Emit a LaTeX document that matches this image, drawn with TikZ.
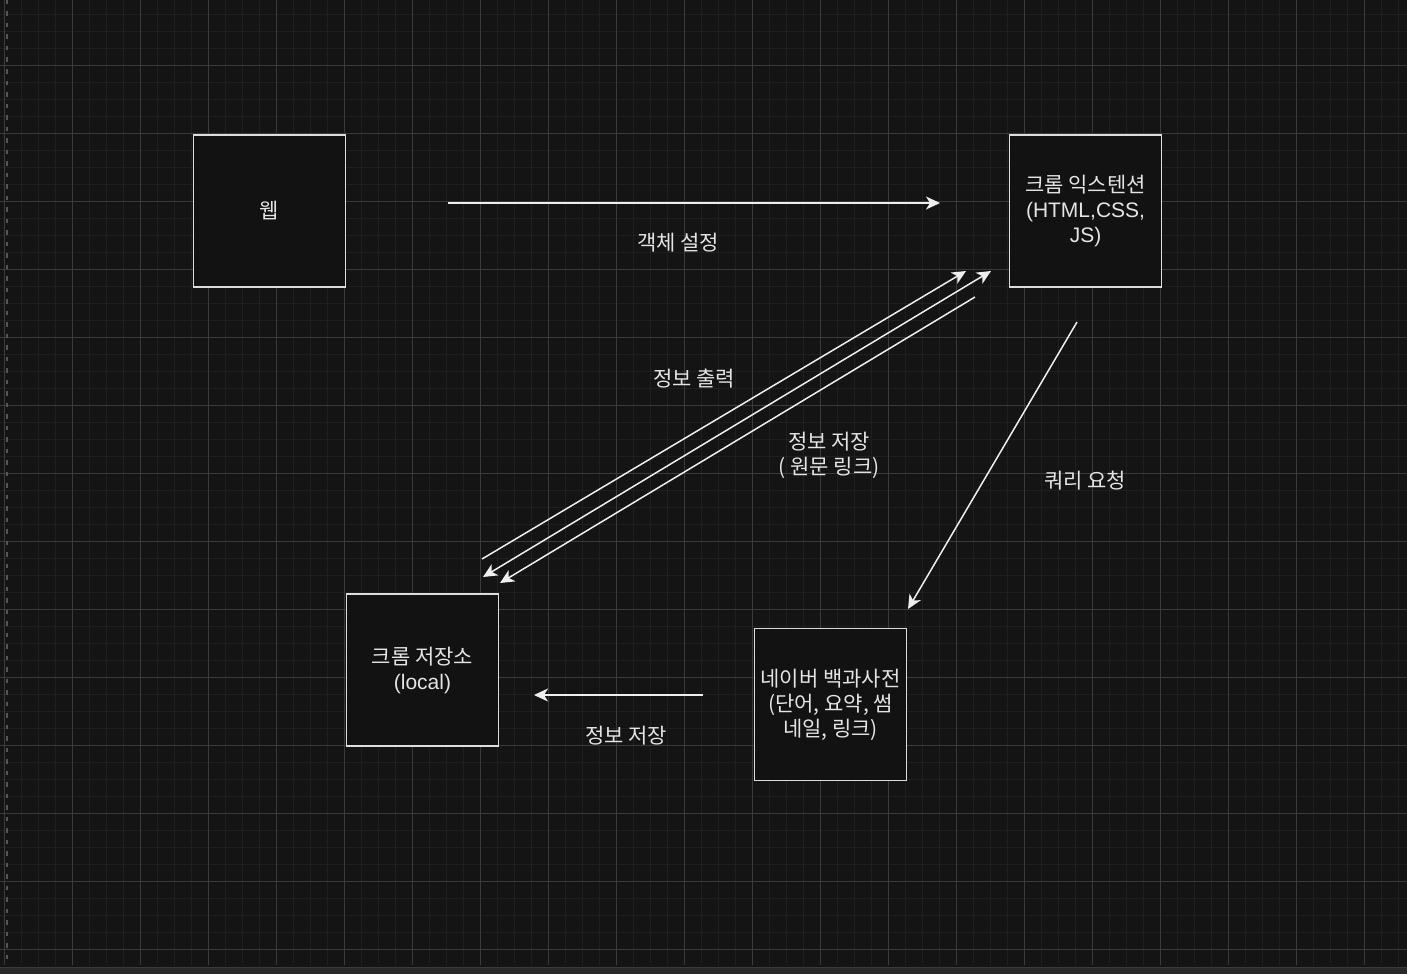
\documentclass[tikz,border=0pt]{standalone}
\usepackage{fontspec}
\setmainfont{Noto Sans CJK KR}
\newfontfamily\latfont{Liberation Sans}
\usetikzlibrary{arrows.meta}

\definecolor{bgdark}{HTML}{141414}
\definecolor{gridminor}{HTML}{1F1F1F}
\definecolor{gridmajor}{HTML}{3A3A3A}
\definecolor{dashcol}{HTML}{555555}
\definecolor{boxfill}{HTML}{121212}
\definecolor{boxline}{HTML}{DCDCDC}
\definecolor{txtcol}{HTML}{E4E4E4}
\definecolor{arrowcol}{HTML}{EEEEEE}
\definecolor{barcol}{HTML}{2A2A2A}

\begin{document}
\begin{tikzpicture}[x=1pt, y=-1pt]
        % Styles
        \tikzstyle{box} = [rectangle, draw=boxline, fill=boxfill, line width=1.8pt,
            minimum width=152pt, minimum height=152pt, text=txtcol, align=center,
            font=\fontsize{21}{25}\selectfont]
        \tikzstyle{edgetext} = [text=txtcol, align=center, font=\fontsize{21}{25}\selectfont]
        \tikzstyle{line} = [draw=arrowcol, line width=1.5pt,
            -{Stealth[length=14pt, width=13pt, inset=4pt]}]

        % Canvas and grid
        \useasboundingbox (0,0) rectangle (1407,974);
        \fill[bgdark] (0,0) rectangle (1407,974);
        \foreach \x in {4,21,...,1406}
            \draw[gridminor, line width=1pt] (\x,0) -- (\x,965);
        \foreach \y in {-2.7,14.3,...,965}
            \draw[gridminor, line width=1pt] (0,\y) -- (1407,\y);
        \foreach \x in {4,72,...,1406}
            \draw[gridmajor, line width=1pt] (\x,0) -- (\x,965);
        \foreach \y in {-2.7,65.3,...,965}
            \draw[gridmajor, line width=1pt] (0,\y) -- (1407,\y);
        \draw[dashcol, line width=1.5pt, dash pattern=on 4.5pt off 7pt] (7,0) -- (7,965);
        \fill[barcol] (0,967) rectangle (1407,974);
        \draw[gridmajor, line width=1.5pt] (0,967.5) -- (1407,967.5);

        % Nodes
        \node [box] (web) at (269.5,211) {웹};
        \node [box] (ext) at (1085.5,211) {크롬 익스텐션\\{\latfont (HTML,CSS,}\\{\latfont JS)}};
        \node [box] (store) at (422.5,670) {크롬 저장소\\{\latfont (local)}};
        \node [box] (naver) at (830.5,704.5) {네이버 백과사전\\(단어, 요약, 썸\\네일, 링크)};

        % Arrow ends
        \coordinate (webout) at (448,203);
        \coordinate (extin) at (940,203);
        \coordinate (outfrom) at (482,559);
        \coordinate (outto) at (966,271);
        \coordinate (bothup) at (991,271);
        \coordinate (bothdown) at (483,577);
        \coordinate (savefrom) at (975,297);
        \coordinate (saveto) at (500,583);
        \coordinate (queryfrom) at (1077,322);
        \coordinate (queryto) at (908,609);
        \coordinate (naverout) at (703,695);
        \coordinate (storein) at (534,695);

        % Connections
        \path [line] (webout) -- (extin);
        \path [line] (outfrom) -- (outto);
        \path [line, {Stealth[length=14pt, width=13pt, inset=4pt]}-{Stealth[length=14pt, width=13pt, inset=4pt]}] (bothdown) -- (bothup);
        \path [line] (savefrom) -- (saveto);
        \path [line] (queryfrom) -- (queryto);
        \path [line] (naverout) -- (storein);

        % Labels
        \node [edgetext] (setobj) at (678,243) {객체 설정};
        \node [edgetext] (showinfo) at (694,379) {정보 출력};
        \node [edgetext] (saveinfo) at (829,455.5) {정보 저장\\( 원문 링크)};
        \node [edgetext] (query) at (1085,481) {쿼리 요청};
        \node [edgetext] (storeinfo) at (626,736) {정보 저장};
\end{tikzpicture}
\end{document}
